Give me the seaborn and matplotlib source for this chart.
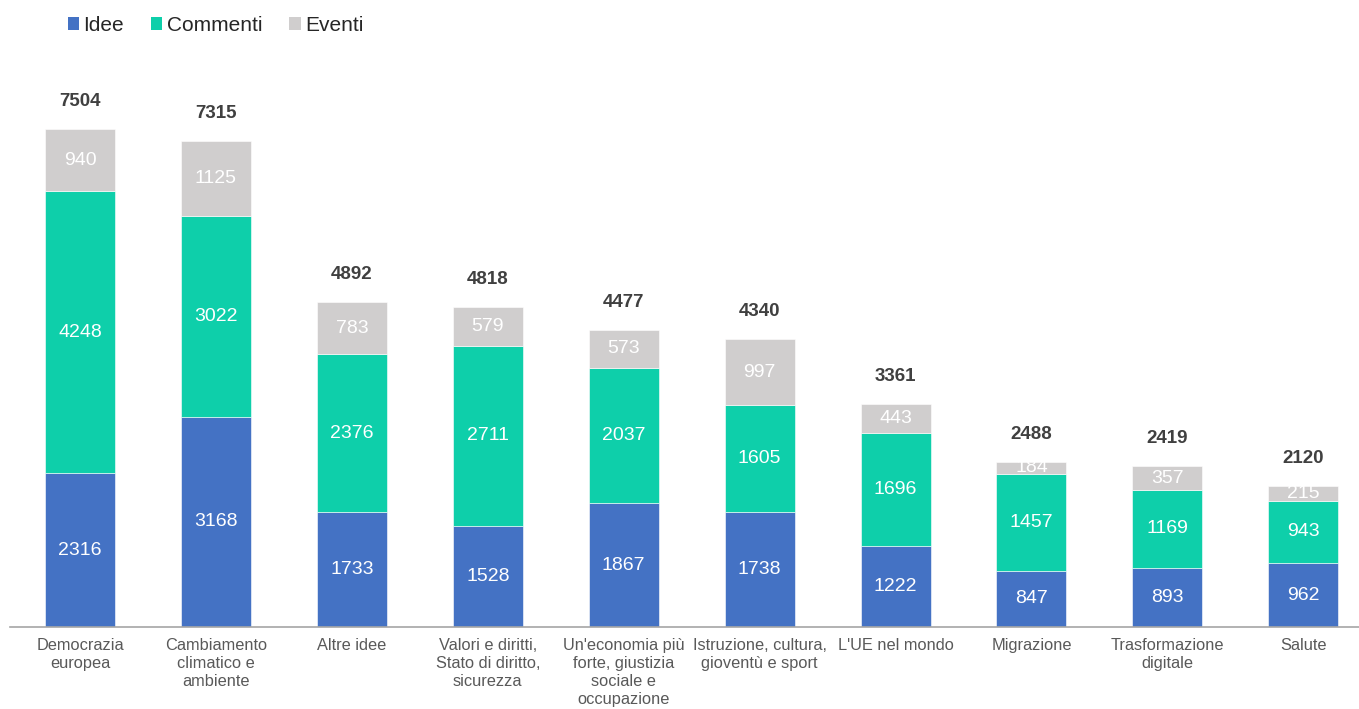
import matplotlib
matplotlib.use("Agg")
import matplotlib.pyplot as plt
from matplotlib.patches import Patch
import seaborn as sns
import numpy as np

# Data
categories = [
    "Democrazia\neuropea",
    "Cambiamento\nclimatico e\nambiente",
    "Altre idee",
    "Valori e diritti,\nStato di diritto,\nsicurezza",
    "Un'economia più\nforte, giustizia\nsociale e\noccupazione",
    "Istruzione, cultura,\ngioventù e sport",
    "L'UE nel mondo",
    "Migrazione",
    "Trasformazione\ndigitale",
    "Salute",
]
idee = [2316, 3168, 1733, 1528, 1867, 1738, 1222, 847, 893, 962]
commenti = [4248, 3022, 2376, 2711, 2037, 1605, 1696, 1457, 1169, 943]
eventi = [940, 1125, 783, 579, 573, 997, 443, 184, 357, 215]
series_names = ["Idee", "Commenti", "Eventi"]
colors = ["#4472C4", "#0ECFAA", "#D0CECE"]

sns.set_theme(style="white")
plt.rcParams["font.family"] = ["Liberation Sans", "DejaVu Sans"]

fig = plt.figure(figsize=(13.59, 7.09), dpi=100)
ax = fig.add_axes([10 / 1359, 82 / 709, 1 - 10 / 1359, 531 / 709])

series = [np.array(idee), np.array(commenti), np.array(eventi)]
bottom = np.zeros(len(categories))
for vals, col in zip(series, colors):
    sns.barplot(x=categories, y=vals, bottom=bottom, color=col, width=0.515,
                saturation=1, edgecolor="white", linewidth=0.4, ax=ax,
                order=categories)
    bottom = bottom + vals

for cont in ax.containers:
    ax.bar_label(cont, label_type="center", color="white", fontsize=14)

totals = bottom
for i, t in enumerate(totals):
    ax.annotate(f"{int(t)}", xy=(i, t), xytext=(0, 20), textcoords="offset points",
                ha="center", va="center", fontsize=13.5, fontweight="bold",
                color="#404040")

ax.set_xlim(-0.515, 9.41)
ax.set_ylim(0, 8000)
ax.set_yticks([])
ax.set_ylabel("")
for s in ["top", "left", "right"]:
    ax.spines[s].set_visible(False)
ax.spines["bottom"].set_color("#A6A6A6")
ax.spines["bottom"].set_linewidth(1.2)
ax.tick_params(axis="x", length=0, pad=8, labelsize=11.8, labelcolor="#595959")
for lab in ax.get_xticklabels():
    lab.set_linespacing(1.25)

handles = [Patch(facecolor=c, edgecolor="none") for c in colors]
fig.legend(handles, series_names, loc="upper left", bbox_to_anchor=(0.036, 1.004),
           ncol=3, frameon=False, fontsize=15, handlelength=0.55, handleheight=0.55,
           handletextpad=0.2, columnspacing=1.3, borderaxespad=0.5)

fig.savefig("out.png", dpi=100)
